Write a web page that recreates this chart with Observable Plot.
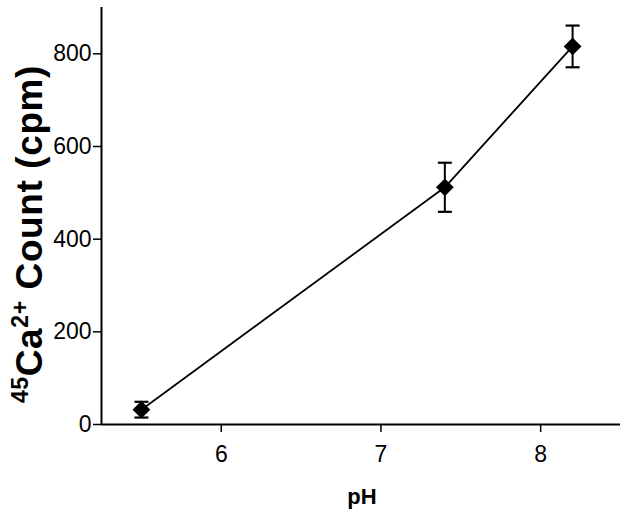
<!DOCTYPE html>
<html>
<head>
<meta charset="utf-8">
<script src="https://cdn.jsdelivr.net/npm/d3@7"></script>
<script src="https://cdn.jsdelivr.net/npm/@observablehq/plot@0.6"></script>
<style>
  html, body { margin: 0; padding: 0; background: #fff; }
  #chart { width: 625px; height: 510px; }
</style>
</head>
<body>
<div id="chart"></div>
<script>
const ph = [5.5, 7.4, 8.2];
const counts = [32, 512, 816];
const errors = [17, 53, 45];
const xTicks = [6, 7, 8];
const yTicks = [0, 200, 400, 600, 800];

const data = ph.map((p, i) => ({ph: p, count: counts[i], lo: counts[i] - errors[i], hi: counts[i] + errors[i]}));

const capSymbol = {
  draw(context, size) {
    const r = Math.sqrt(size / Math.PI);
    context.moveTo(-r, 0);
    context.lineTo(r, 0);
  }
};

const xDomain = [5.25, 8.5];
const yDomain = [0, 900];
const font = "'Liberation Sans', Arial, sans-serif";

const chart = Plot.plot({
  width: 625,
  height: 510,
  marginLeft: 101,
  marginRight: 5,
  marginTop: 7,
  marginBottom: 86,
  style: {fontFamily: font, fontSize: "22px", color: "#000", background: "#fff"},
  x: {domain: xDomain},
  y: {domain: yDomain},
  marks: [
    Plot.axisX({ticks: xTicks, tickFormat: d3.format("d"), tickSize: 8, tickPadding: 13, label: null, fontSize: 23, strokeWidth: 1.5}),
    Plot.axisY({ticks: yTicks, tickFormat: d3.format("d"), tickSize: 8, tickPadding: 2, label: null, fontSize: 23, strokeWidth: 1.5}),
    Plot.ruleY([yDomain[0]], {stroke: "#000", strokeWidth: 2}),
    Plot.ruleX([xDomain[0]], {stroke: "#000", strokeWidth: 2}),
    Plot.line(data, {x: "ph", y: "count", stroke: "#000", strokeWidth: 1.8}),
    Plot.ruleX(data, {x: "ph", y1: "lo", y2: "hi", stroke: "#000", strokeWidth: 2}),
    Plot.dot(data, {x: "ph", y: "hi", symbol: capSymbol, r: 7, stroke: "#000", strokeWidth: 2.2, fill: "none"}),
    Plot.dot(data, {x: "ph", y: "lo", symbol: capSymbol, r: 7, stroke: "#000", strokeWidth: 2.2, fill: "none"}),
    Plot.dot(data, {x: "ph", y: "count", symbol: "diamond2", r: 8, fill: "#000", stroke: "none"})
  ]
});

const svg = d3.select(chart);
svg.selectAll('g[aria-label$="tick label"]').attr("font-size", 23).style("font-size", "23px");
// x axis title
svg.append("text")
  .attr("x", 362).attr("y", 504)
  .attr("text-anchor", "middle")
  .attr("font-family", font)
  .attr("font-weight", "bold").attr("font-size", 22)
  .text("pH");
// y axis title with superscripts
const yl = svg.append("text")
  .attr("transform", "translate(42,234) rotate(-90)")
  .attr("text-anchor", "middle")
  .attr("font-family", font)
  .attr("font-weight", "bold").attr("font-size", 37)
  .attr("letter-spacing", 0.6);
yl.append("tspan").attr("font-size", 23).attr("dy", -14).text("45");
yl.append("tspan").attr("dy", 14).text("Ca");
yl.append("tspan").attr("font-size", 23).attr("dy", -14).text("2+");
yl.append("tspan").attr("dy", 14).text(" Count (cpm)");

document.getElementById("chart").appendChild(chart);
</script>
</body>
</html>
